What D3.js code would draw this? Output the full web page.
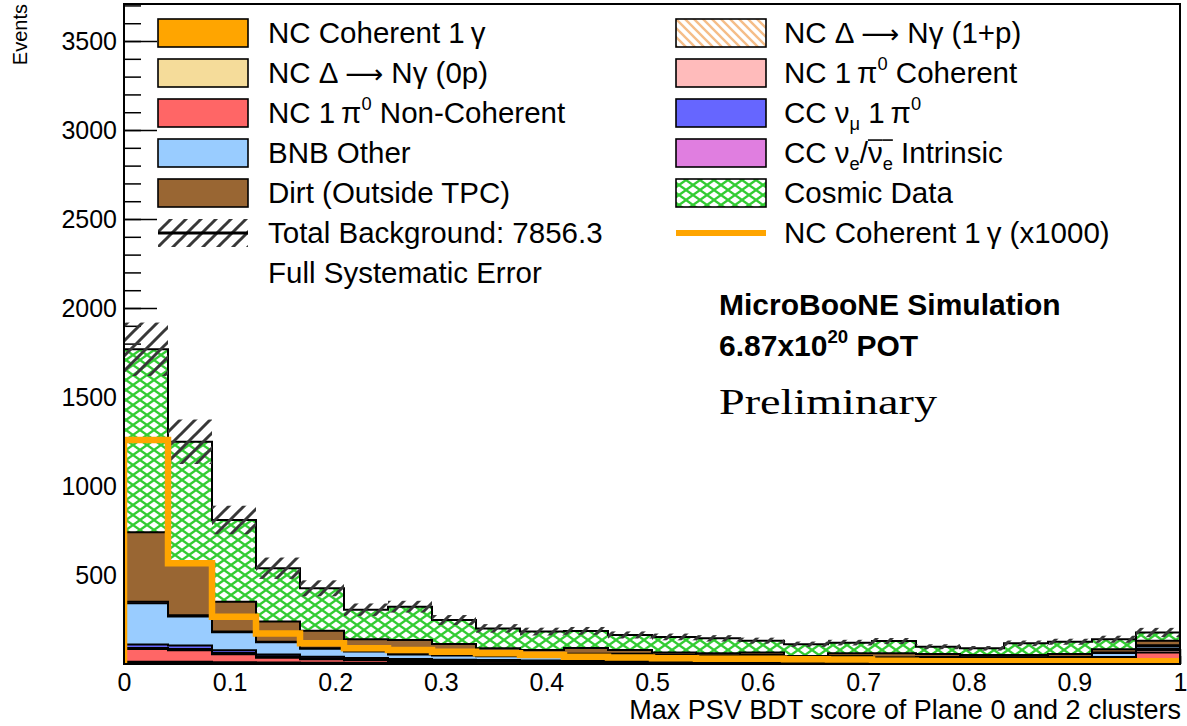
<!DOCTYPE html>
<html>
<head>
<meta charset="utf-8">
<script src="https://cdn.jsdelivr.net/npm/d3@7"></script>
<style>
  body { margin: 0; background: #fff; }
  svg { display: block; font-family: "Liberation Sans", Arial, sans-serif; }
</style>
</head>
<body>
<div id="chart"></div>
<script>
// 24 equal bins of the BDT score on [0, 1]
const binEdges = [0, 1/24, 2/24, 3/24, 4/24, 5/24, 6/24, 7/24, 8/24, 9/24, 10/24, 11/24, 12/24,
  13/24, 14/24, 15/24, 16/24, 17/24, 18/24, 19/24, 20/24, 21/24, 22/24, 23/24, 1];
const xTicks = [0, 0.1, 0.2, 0.3, 0.4, 0.5, 0.6, 0.7, 0.8, 0.9, 1];
const yTicks = [500, 1000, 1500, 2000, 2500, 3000, 3500];

// stacked backgrounds, bottom to top (events per bin)
const ncCoh1g     = [1.258, 0.566, 0.266, 0.172, 0.116, 0.088, 0.079, 0.069, 0.060, 0.051, 0.041, 0.036,
                     0.032, 0.030, 0.029, 0.027, 0.025, 0.018, 0.016, 0.015, 0.015, 0.015, 0.015, 0.015];
const ncDelta0p   = [5, 5, 4, 3, 3, 2, 2, 2, 2, 1, 1, 1, 1, 1, 1, 1, 1, 1, 1, 1, 1, 1, 1, 3];
const ncDelta1p   = [6, 7, 6, 5, 4, 4, 3, 3, 2, 2, 2, 2, 1, 1, 1, 1, 1, 1, 1, 1, 1, 1, 2, 4];
const ncPi0NonCoh = [72, 64, 44, 27, 19, 15, 12, 10, 9, 8, 8, 7, 7, 6, 6, 6, 6, 6, 6, 6, 7, 7, 24, 57];
const ncPi0Coh    = [5, 8, 8, 8, 6, 6, 5, 4, 4, 4, 4, 3, 3, 3, 3, 3, 3, 3, 3, 3, 3, 4, 6, 15];
const ccNumuPi0   = [20, 20, 15, 10, 8, 7, 6, 5, 5, 4, 4, 4, 3, 3, 3, 3, 3, 3, 3, 3, 3, 3, 6, 8];
const bnbOther    = [232, 162, 101, 69, 45, 36, 25, 24, 22, 23, 37, 39, 35, 32, 34, 22, 29, 21, 24, 22, 21, 22, 23, 14];
const ccNue       = [9, 8, 4, 3, 3, 2, 2, 2, 2, 2, 2, 2, 2, 2, 2, 2, 2, 2, 2, 2, 2, 2, 2, 4];
const dirt        = [390, 281, 168, 113, 99, 67, 80, 62, 42, 35, 32, 21, 13, 12, 14, 7, 15, 23, 16, 13, 13, 16, 19, 26];
const cosmic      = [1028, 693, 459, 300, 238, 166, 187, 135, 112, 103, 96, 84, 87, 84, 67, 66, 60, 69, 41, 37, 65, 69, 56, 46];

// full systematic error on the total
const totalErr = [150, 125, 80, 60, 45, 35, 33, 28, 24, 22, 22, 20, 19, 18, 17, 15, 16, 17, 14, 13, 16, 17, 20, 26];

const W = 1187, H = 726;
const pLeft = 124, pRight = 1180, pTop = 4, pBottom = 664;

const svg = d3.select('#chart').append('svg').attr('width', W).attr('height', H);
const defs = svg.append('defs');

// patterns
const cos = defs.append('pattern').attr('id', 'cosmicFill').attr('patternUnits', 'userSpaceOnUse')
  .attr('width', 14).attr('height', 10);
cos.append('rect').attr('width', 14).attr('height', 10).attr('fill', '#fff');
cos.append('path').attr('d', 'M0,0L14,10M0,10L14,0').attr('stroke', '#33cc33').attr('stroke-width', 2.3);

const err = defs.append('pattern').attr('id', 'errFill').attr('patternUnits', 'userSpaceOnUse')
  .attr('width', 15).attr('height', 15);
err.append('path').attr('d', 'M0,15L15,0M-2,2L2,-2M13,17L17,13').attr('stroke', '#383838').attr('stroke-width', 3);

const pch = defs.append('pattern').attr('id', 'delta1pFill').attr('patternUnits', 'userSpaceOnUse')
  .attr('width', 9).attr('height', 9);
pch.append('rect').attr('width', 9).attr('height', 9).attr('fill', '#fff');
pch.append('path').attr('d', 'M0,0L9,9M-2,7L2,11M7,-2L11,2').attr('stroke', '#f5bd88').attr('stroke-width', 2.4);

defs.append('clipPath').attr('id', 'plotClip').append('rect')
  .attr('x', pLeft).attr('y', pTop).attr('width', pRight - pLeft).attr('height', pBottom - pTop);

const x = d3.scaleLinear().domain([0, 1]).range([pLeft, pRight]);
const y = d3.scaleLinear().domain([0, 3708]).range([pBottom, pTop]);

// axes (drawn first so the histogram hides the ticks, as in the original)
const yMajor = svg.append('g').attr('transform', `translate(${pLeft},0)`)
  .call(d3.axisLeft(y).tickValues(yTicks).tickSize(-33).tickPadding(7).tickFormat(d3.format('d')));
svg.append('g').attr('transform', `translate(${pLeft},0)`)
  .call(d3.axisLeft(y).tickValues(d3.range(100, 3701, 100)).tickSize(-17).tickFormat(''));
const xMajor = svg.append('g').attr('transform', `translate(0,${pBottom})`)
  .call(d3.axisBottom(x).tickValues(xTicks).tickSize(-15).tickPadding(9).tickFormat(d3.format('~g')));
svg.append('g').attr('transform', `translate(0,${pBottom})`)
  .call(d3.axisBottom(x).tickValues(d3.range(0, 1.001, 0.02)).tickSize(-8).tickFormat(''));

svg.selectAll('.domain').remove();
svg.selectAll('.tick line').attr('stroke', '#000').attr('stroke-width', 1.5);
[yMajor, xMajor].forEach(a => a.attr('font-size', null).attr('font-family', null)
  .selectAll('text').style('font-size', '25px').attr('fill', '#000'));

// stacked histogram
const layers = [
  { key: 'coh1g', values: ncCoh1g, fill: '#ffa500' },
  { key: 'd0p', values: ncDelta0p, fill: '#f5dc9a' },
  { key: 'd1p', values: ncDelta1p, fill: 'url(#delta1pFill)' },
  { key: 'pi0nc', values: ncPi0NonCoh, fill: '#ff6666' },
  { key: 'pi0c', values: ncPi0Coh, fill: '#ffbbbb' },
  { key: 'numu', values: ccNumuPi0, fill: '#6666ff' },
  { key: 'bnb', values: bnbOther, fill: '#99ccff' },
  { key: 'nue', values: ccNue, fill: '#e07ee0' },
  { key: 'dirt', values: dirt, fill: '#996633' },
  { key: 'cosmic', values: cosmic, fill: 'url(#cosmicFill)' }
];

const rows = d3.range(binEdges.length - 1).map(i => {
  const r = {};
  layers.forEach(l => { r[l.key] = l.values[i]; });
  return r;
});
const series = d3.stack().keys(layers.map(l => l.key))(rows);

// one extra point closes the last bin
const stepPts = arr => arr.map((v, i) => [binEdges[i], v]).concat([[binEdges[arr.length], arr[arr.length - 1]]]);

const area = d3.area()
  .curve(d3.curveStepAfter)
  .x(d => x(d[0]))
  .y0(y(0))
  .y1(d => y(d[1]));

const plot = svg.append('g').attr('clip-path', 'url(#plotClip)');

series.slice().reverse().forEach(s => {
  const l = layers.find(d => d.key === s.key);
  plot.append('path')
    .attr('d', area(stepPts(s.map(d => d[1]))))
    .attr('fill', l.fill)
    .attr('stroke', '#000')
    .attr('stroke-width', 2);
});

// error band
const totals = series[series.length - 1].map(d => d[1]);
plot.selectAll('rect.err')
  .data(totals)
  .enter()
  .append('rect')
  .attr('class', 'err')
  .attr('x', (d, i) => x(binEdges[i]))
  .attr('width', (d, i) => x(binEdges[i + 1]) - x(binEdges[i]))
  .attr('y', (d, i) => y(d + totalErr[i]))
  .attr('height', (d, i) => y(d - totalErr[i]) - y(d + totalErr[i]))
  .attr('fill', 'url(#errFill)');

// signal scaled by 1000
const sigPts = [[0, 0]].concat(stepPts(ncCoh1g.map(v => v * 1000))).concat([[1, 0]]);
plot.append('path')
  .attr('d', d3.line().curve(d3.curveStepAfter).x(d => x(d[0])).y(d => y(d[1]))(sigPts))
  .attr('fill', 'none')
  .attr('stroke', '#ffa500')
  .attr('stroke-width', 6.5);

// frame
svg.append('rect')
  .attr('x', pLeft).attr('y', pTop).attr('width', pRight - pLeft).attr('height', pBottom - pTop)
  .attr('fill', 'none').attr('stroke', '#000').attr('stroke-width', 2);

// rich text: parts are strings or {t, sup|sub|bar|font}
function richText(g, x0, y0, parts, size, weight) {
  const t = g.append('text').attr('x', x0).attr('y', y0)
    .style('font-size', size + 'px').style('font-weight', weight || 'normal');
  let shift = 0, idx = 0;
  const bars = [];
  parts.forEach(p => {
    const o = typeof p === 'string' ? { t: p } : p;
    const target = o.sup ? -0.42 * size : o.sub ? 0.26 * size : 0;
    const ts = t.append('tspan').attr('dy', target - shift).text(o.t);
    if (o.sup || o.sub) ts.style('font-size', (0.62 * size) + 'px');
    if (o.font) ts.style('font-family', o.font).style('font-size', (0.9 * size) + 'px');
    shift = target;
    if (o.bar) bars.push([idx, idx + o.t.length - 1]);
    idx += o.t.length;
  });
  bars.forEach(([a, b]) => {
    const n = t.node();
    const p0 = n.getStartPositionOfChar(a), p1 = n.getEndPositionOfChar(b);
    g.append('line').attr('x1', p0.x).attr('x2', p1.x)
      .attr('y1', y0 - 0.76 * size).attr('y2', y0 - 0.76 * size)
      .attr('stroke', '#000').attr('stroke-width', 1.6);
  });
  return t;
}

const arrow = { t: '\u27f6', font: '"DejaVu Sans", sans-serif' };

// legend
const legend = svg.append('g');
const rowY = i => 33 + 40 * i;
const legendCols = [
  { bx: 158, tx: 268, items: [
    { fill: '#ffa500', label: ['NC Coherent 1\u2009γ'] },
    { fill: '#f5dc9a', label: ['NC Δ ', arrow, ' Nγ (0p)'] },
    { fill: '#ff6666', label: ['NC 1\u2009π', { t: '0', sup: 1 }, ' Non-Coherent'] },
    { fill: '#99ccff', label: ['BNB Other'] },
    { fill: '#996633', label: ['Dirt (Outside TPC)'] },
    { type: 'err', label: ['Total Background: 7856.3'] },
    { type: 'none', label: ['Full Systematic Error'] }
  ]},
  { bx: 676, tx: 784, items: [
    { fill: 'url(#delta1pFill)', label: ['NC Δ ', arrow, ' Nγ (1+p)'] },
    { fill: '#ffbbbb', label: ['NC 1\u2009π', { t: '0', sup: 1 }, ' Coherent'] },
    { fill: '#6666ff', label: ['CC ν', { t: 'μ', sub: 1 }, ' 1\u2009π', { t: '0', sup: 1 }] },
    { fill: '#e07ee0', label: ['CC ν', { t: 'e', sub: 1 }, '/', { t: 'ν', bar: 1 }, { t: 'e', sub: 1, bar: 1 }, ' Intrinsic'] },
    { fill: 'url(#cosmicFill)', label: ['Cosmic Data'] },
    { type: 'line', label: ['NC Coherent 1\u2009γ (x1000)'] }
  ]}
];

legendCols.forEach(col => {
  col.items.forEach((it, i) => {
    const cy = rowY(i);
    if (it.type === 'err') {
      legend.append('rect').attr('x', col.bx).attr('y', cy - 14).attr('width', 90).attr('height', 28)
        .attr('fill', 'url(#errFill)');
      legend.append('line').attr('x1', col.bx).attr('x2', col.bx + 90).attr('y1', cy).attr('y2', cy)
        .attr('stroke', '#000').attr('stroke-width', 3);
    } else if (it.type === 'line') {
      legend.append('line').attr('x1', col.bx).attr('x2', col.bx + 90).attr('y1', cy).attr('y2', cy)
        .attr('stroke', '#ffa500').attr('stroke-width', 6);
    } else if (it.type !== 'none') {
      legend.append('rect').attr('x', col.bx).attr('y', cy - 14).attr('width', 90).attr('height', 28)
        .attr('fill', it.fill).attr('stroke', '#000').attr('stroke-width', 1.6);
    }
    richText(legend, col.tx, cy + 9.5, it.label, 29.5);
  });
});

// labels
richText(svg, 719, 315, ['MicroBooNE Simulation'], 30, 'bold');
richText(svg, 719, 356, ['6.87x10', { t: '20', sup: 1 }, ' POT'], 30, 'bold');
svg.append('text').attr('x', 719).attr('y', 414)
  .attr('textLength', 218).attr('lengthAdjust', 'spacingAndGlyphs')
  .style('font-family', '"Liberation Serif", "Times New Roman", serif').style('font-size', '35px')
  .text('Preliminary');

svg.append('text')
  .attr('x', pRight + 1).attr('y', 719)
  .style('text-anchor', 'end').style('font-size', '27px')
  .text('Max PSV BDT score of Plane 0 and 2 clusters');

svg.append('text')
  .attr('transform', 'translate(27,4) rotate(-90)')
  .style('text-anchor', 'end').style('font-size', '20px')
  .text('Events');
</script>
</body>
</html>
